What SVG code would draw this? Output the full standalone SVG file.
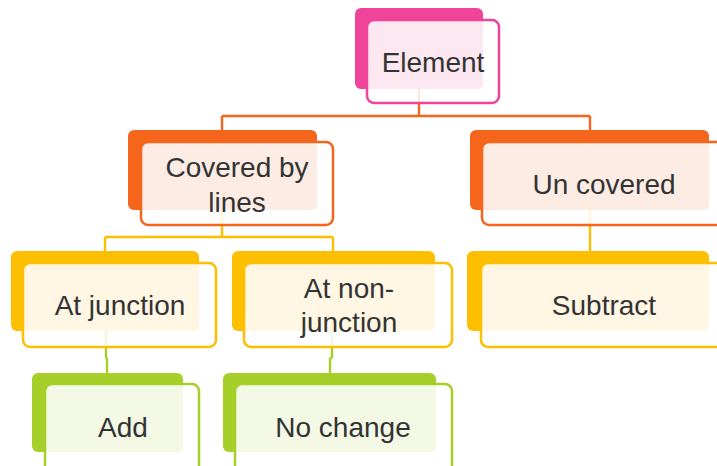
<svg xmlns="http://www.w3.org/2000/svg" width="717" height="466" viewBox="0 0 717 466">
  <style>
    .lbl { font-family: "Comic Sans MS", "Liberation Sans", "DejaVu Sans", sans-serif; font-size: 28px; fill: #333333; text-anchor: middle; }
    .wire { fill: none; stroke-width: 2.4; }
    .frame { fill: #ffffff; fill-opacity: 0.85; stroke-width: 2.5; }
    .pink .back { fill: #f0449a; } .pink .face { fill: #fde8f1; } .pink .frame { stroke: #f0449a; }
    .orange .back { fill: #f5661c; } .orange .face { fill: #fdece4; } .orange .frame { stroke: #f5661c; }
    .yellow .back { fill: #fdbf00; } .yellow .face { fill: #fff6e3; } .yellow .frame { stroke: #fdbf00; }
    .green .back { fill: #a6cf29; } .green .face { fill: #f4f9e6; } .green .frame { stroke: #a6cf29; }
  </style>

  <!-- connectors -->
  <g id="connectors">
    <path class="wire" stroke="#f5661c" d="M419 89 V116 M222 116 H590 M222 116 V130 M590 116 V130"/>
    <path class="wire" stroke="#fdbf00" d="M222 210 V237 M105 237 H333 M105 237 V251 M333 237 V251 M590 210 V251"/>
    <path class="wire" stroke="#a6cf29" d="M106 331 V357 L107 359 V373 M332 331 V357 L330 359 V373"/>
  </g>

  <!-- nodes -->
  <g id="element" class="pink">
    <rect class="back" x="355" y="8" width="128" height="81" rx="6"/>
    <rect class="frame" x="367" y="20" width="132" height="83" rx="7"/>
    <rect class="face" x="369" y="22" width="114" height="67" rx="5"/>
    <text class="lbl" x="433" y="72">Element</text>
  </g>

  <g id="covered" class="orange">
    <rect class="back" x="128" y="130" width="189" height="80" rx="6"/>
    <rect class="frame" x="141" y="142" width="192" height="83" rx="7"/>
    <rect class="face" x="143" y="144" width="174" height="66" rx="5"/>
    <text class="lbl" x="237" y="177">Covered by</text>
    <text class="lbl" x="237" y="212">lines</text>
  </g>

  <g id="uncovered" class="orange">
    <rect class="back" x="470" y="130" width="239" height="80" rx="6"/>
    <rect class="frame" x="482" y="142" width="250" height="83" rx="7"/>
    <rect class="face" x="485" y="144" width="224" height="66" rx="5"/>
    <text class="lbl" x="604" y="194">Un covered</text>
  </g>

  <g id="junction" class="yellow">
    <rect class="back" x="11" y="251" width="188" height="80" rx="6"/>
    <rect class="frame" x="23" y="263" width="193" height="84" rx="7"/>
    <rect class="face" x="25" y="265" width="174" height="66" rx="5"/>
    <text class="lbl" x="120" y="315">At junction</text>
  </g>

  <g id="nonjunction" class="yellow">
    <rect class="back" x="232" y="251" width="203" height="80" rx="6"/>
    <rect class="frame" x="244" y="263" width="208" height="84" rx="7"/>
    <rect class="face" x="246" y="265" width="189" height="66" rx="5"/>
    <text class="lbl" x="349" y="298">At non-</text>
    <text class="lbl" x="349" y="332">junction</text>
  </g>

  <g id="subtract" class="yellow">
    <rect class="back" x="467" y="251" width="242" height="80" rx="6"/>
    <rect class="frame" x="481" y="263" width="250" height="84" rx="7"/>
    <rect class="face" x="483" y="265" width="226" height="66" rx="5"/>
    <text class="lbl" x="604" y="315">Subtract</text>
  </g>

  <g id="add" class="green">
    <rect class="back" x="32" y="373" width="151" height="79" rx="6"/>
    <rect class="frame" x="45" y="384" width="154" height="100" rx="7"/>
    <rect class="face" x="47" y="386" width="136" height="66" rx="5"/>
    <text class="lbl" x="123" y="437">Add</text>
  </g>

  <g id="nochange" class="green">
    <rect class="back" x="223" y="373" width="213" height="79" rx="6"/>
    <rect class="frame" x="235" y="384" width="217" height="100" rx="7"/>
    <rect class="face" x="237" y="386" width="199" height="66" rx="5"/>
    <text class="lbl" x="343" y="437">No change</text>
  </g>
</svg>
